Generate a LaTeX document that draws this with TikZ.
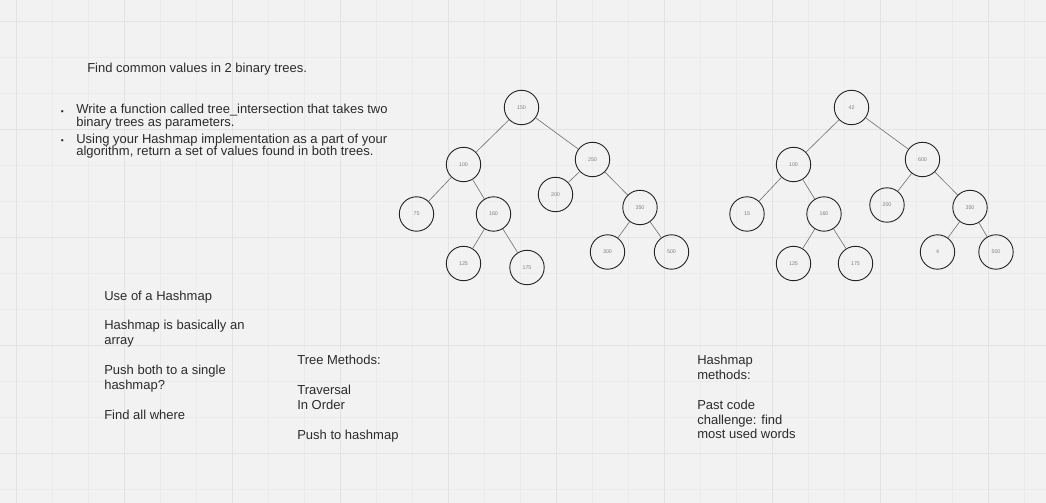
\documentclass[tikz,border=0pt]{standalone}
\usepackage{fontspec}
\setmainfont{Liberation Sans}
\usepackage{xcolor}
\usetikzlibrary{positioning}
\definecolor{boardbg}{HTML}{F2F2F2}
\definecolor{gridminor}{HTML}{EBEBEB}
\definecolor{gridmajor}{HTML}{E3E3E3}
\definecolor{inkdark}{HTML}{2B2B2B}
\tikzset{
  treenode/.style={circle, draw=black!85, line width=0.65pt, minimum size=0.86cm, inner sep=0pt, font=\fontsize{3.8}{4}\selectfont, text=black!50},
  branch/.style={draw=black!55, line width=0.45pt},
  note/.style={anchor=base west, align=left, inner sep=0pt, font=\fontsize{9.25}{10.4}\selectfont, text=inkdark},
  task/.style={anchor=base west, align=left, inner sep=0pt, font=\fontsize{9.25}{8.9}\selectfont, text=inkdark},
  dot/.style={anchor=base west, inner sep=0pt, font=\fontsize{6}{6}\selectfont, text=inkdark},
}

\begin{document}
\begin{tikzpicture}[x=0.025cm, y=-0.025cm]
  % board
  \fill[boardbg] (0,0) rectangle (1046,503);
  \useasboundingbox (0,0) rectangle (1046,503);
  \foreach \gx in {16,52,...,1046} \draw[gridminor, line width=0.3pt] (\gx,0) -- (\gx,503);
  \foreach \gy in {21,57,...,503} \draw[gridminor, line width=0.3pt] (0,\gy) -- (1046,\gy);
  \foreach \gx in {16,124,...,1046} \draw[gridmajor, line width=0.4pt] (\gx,0) -- (\gx,503);
  \foreach \gy in {21,129,...,503} \draw[gridmajor, line width=0.4pt] (0,\gy) -- (1046,\gy);

  % task text
  \node[note] (title) at (87,72.5) {Find common values in 2 binary trees.};
  \node[dot] (dotA) at (60.5,115) {•};
  \node[task] (taskA) at (76,126.5) {Write a function called tree\_intersection that takes two\\binary trees as parameters.};
  \node[dot] (dotB) at (60.5,143.5) {•};
  \node[task] (taskB) at (76,156) {Using your Hashmap implementation as a part of your\\algorithm, return a set of values found in both trees.};

  % first tree
  \node[treenode] (ta150) at (521.5,107.5) {150};
  \node[treenode] (ta100) at (463.5,164.5) {100};
  \node[treenode] (ta250) at (592.5,159.5) {250};
  \node[treenode] (ta75)  at (416.5,214) {75};
  \node[treenode] (ta160) at (493.5,214) {160};
  \node[treenode] (ta200) at (555.5,194.5) {200};
  \node[treenode] (ta350) at (640,207.5) {350};
  \node[treenode] (ta125) at (463.5,263.5) {125};
  \node[treenode] (ta175) at (527,267.5) {175};
  \node[treenode] (ta300) at (607.5,252) {300};
  \node[treenode] (ta500) at (671.5,252) {500};
  \draw[branch] (ta150)--(ta100);
  \draw[branch] (ta150)--(ta250);
  \draw[branch] (ta100)--(ta75);
  \draw[branch] (ta100)--(ta160);
  \draw[branch] (ta160)--(ta125);
  \draw[branch] (ta160)--(ta175);
  \draw[branch] (ta250)--(ta200);
  \draw[branch] (ta250)--(ta350);
  \draw[branch] (ta350)--(ta300);
  \draw[branch] (ta350)--(ta500);

  % second tree
  \node[treenode] (tb42)  at (851.5,107.5) {42};
  \node[treenode] (tb100) at (793.5,164.5) {100};
  \node[treenode] (tb600) at (922.5,159.5) {600};
  \node[treenode] (tb15)  at (747,214) {15};
  \node[treenode] (tb160) at (824,214) {160};
  \node[treenode] (tb200) at (887,205) {200};
  \node[treenode] (tb350) at (970,207.5) {350};
  \node[treenode] (tb125) at (793.5,263.5) {125};
  \node[treenode] (tb175) at (855.5,263.5) {175};
  \node[treenode] (tb4)   at (937.5,252) {4};
  \node[treenode] (tb500) at (996,252) {500};
  \draw[branch] (tb42)--(tb100);
  \draw[branch] (tb42)--(tb600);
  \draw[branch] (tb100)--(tb15);
  \draw[branch] (tb100)--(tb160);
  \draw[branch] (tb160)--(tb125);
  \draw[branch] (tb160)--(tb175);
  \draw[branch] (tb600)--(tb200);
  \draw[branch] (tb600)--(tb350);
  \draw[branch] (tb350)--(tb4);
  \draw[branch] (tb350)--(tb500);

  % notes
  \node[note] (usehash) at (104,300.5) {Use of a Hashmap};
  \node[note] (isarray) at (104,344.5) {Hashmap is basically an\\array};
  \node[note] (pushboth) at (104,389.5) {Push both to a single\\hashmap?};
  \node[note] (findall) at (104,419.5) {Find all where};
  \node[note] (treemeth) at (297,365) {Tree Methods:};
  \node[note] (traverse) at (297,409.5) {Traversal\\In Order};
  \node[note] (pushto) at (297,439.5) {Push to hashmap};
  \node[note] (hashmeth) at (697,379.5) {Hashmap\\methods:};
  \node[note] (pastcode) at (697,439) {Past code\\challenge: find\\most used words};
\end{tikzpicture}
\end{document}
